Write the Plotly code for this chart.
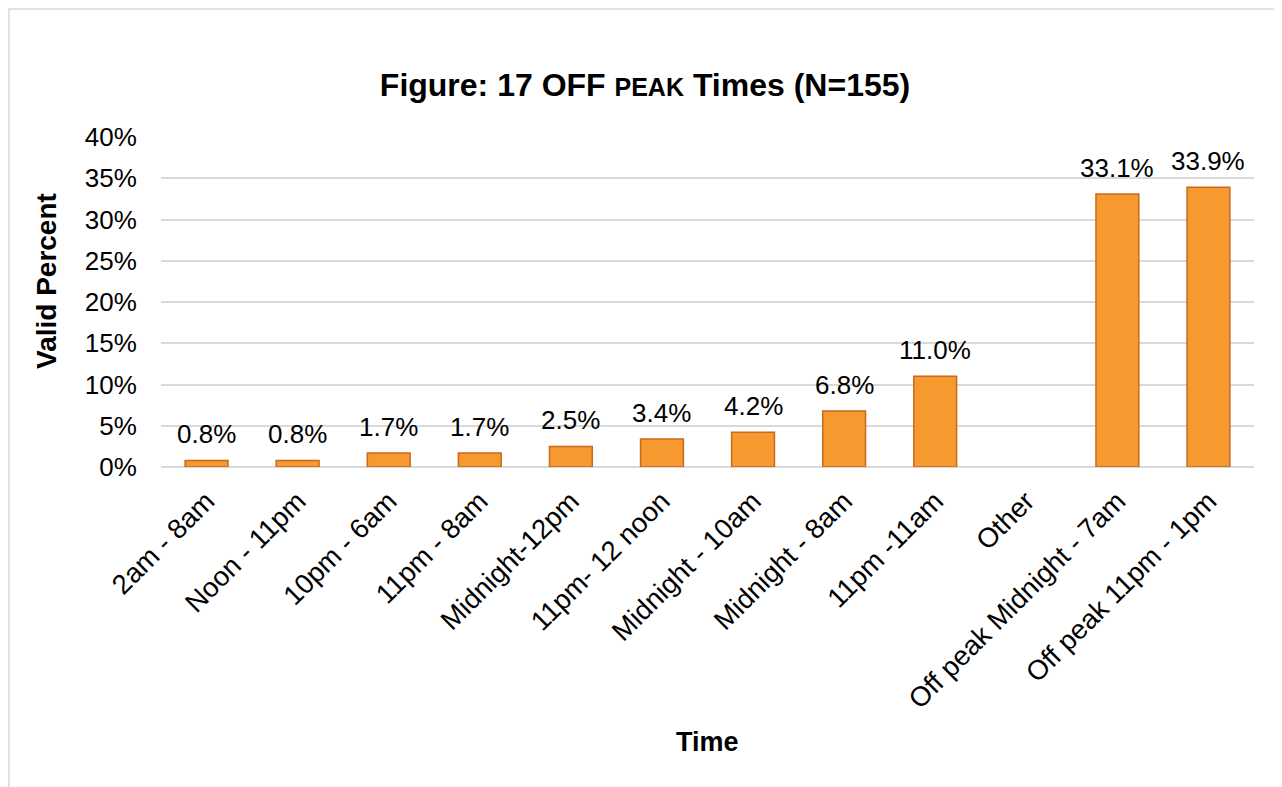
import plotly.graph_objects as go

categories = ["2am - 8am", "Noon - 11pm", "10pm - 6am", "11pm - 8am", "Midnight-12pm",
              "11pm- 12 noon", "Midnight - 10am", "Midnight - 8am", "11pm -11am", "Other",
              "Off peak Midnight - 7am", "Off peak 11pm - 1pm"]
values = [0.8, 0.8, 1.7, 1.7, 2.5, 3.4, 4.2, 6.8, 11.0, None, 33.1, 33.9]
ytick_vals = [0, 5, 10, 15, 20, 25, 30, 35, 40]
ytick_text = [f"{v}%" for v in ytick_vals]

FONT = "Liberation Sans, Arial, sans-serif"

fig = go.Figure()
fig.add_trace(go.Bar(
    x=categories, y=values,
    marker=dict(color="#F6992E", line=dict(color="#C8691C", width=1.5)),
    width=0.47,
))

# data labels above the bars
for c, v in zip(categories, values):
    if v is None:
        continue
    fig.add_annotation(x=c, y=v, text=f"{v:.1f}%", showarrow=False,
                       xref="x", yref="y", yanchor="bottom", yshift=9,
                       font=dict(size=26, family=FONT, color="#000000"))

W, H = 1274, 779
ml, mr, mt, mb = 153, 28, 129, 320
fig.update_layout(
    width=W, height=H,
    margin=dict(l=ml, r=mr, t=mt, b=mb, autoexpand=False),
    paper_bgcolor="white", plot_bgcolor="white",
    font=dict(family=FONT, color="#000000"),
    title=dict(text="<b>Figure: 17 OFF <span style='font-size:25px'>PEAK</span> Times (N=155)</b>",
               x=637 / W, xref="container", y=1 - 77 / H, yref="container",
               xanchor="center", yanchor="middle",
               font=dict(size=32, family=FONT, color="#000000")),
    showlegend=False,
)
fig.update_yaxes(
    range=[0, 40], tickvals=ytick_vals, ticktext=ytick_text, automargin=False,
    tickfont=dict(size=26, family=FONT), showgrid=True, gridcolor="#D9D9D9", gridwidth=1.5,
    zeroline=True, zerolinecolor="#D9D9D9", zerolinewidth=1.5, showline=False,
    ticks="outside", ticklen=18, tickcolor="rgba(0,0,0,0)",
)
fig.update_xaxes(
    tickangle=-45, tickfont=dict(size=27.5, family=FONT), showline=False, automargin=False,
    ticks="outside", ticklen=6, tickcolor="rgba(0,0,0,0)",
)
# axis titles
pw, ph = W - ml - mr, H - mt - mb
fig.add_annotation(text="<b>Valid Percent</b>", xref="paper", yref="paper",
                   x=-(ml - 38) / pw, y=(459 - 273) / ph,
                   textangle=-90, showarrow=False, xanchor="center", yanchor="middle",
                   font=dict(size=28, family=FONT, color="#000000"))
fig.add_annotation(text="<b>Time</b>", xref="paper", yref="paper",
                   x=(699 - ml) / pw, y=-(734 - 459) / ph,
                   showarrow=False, xanchor="center", yanchor="middle",
                   font=dict(size=27, family=FONT, color="#000000"))
# light outer chart border (cropped at right/bottom)
fig.add_shape(type="rect", xref="paper", yref="paper",
              x0=(1 - ml) / pw, x1=(1400 - ml) / pw,
              y0=(459 - 900) / ph, y1=(459 - 1) / ph,
              line=dict(color="#D9D9D9", width=1.5), fillcolor="rgba(0,0,0,0)", layer="below")

fig.write_html("out.html")
